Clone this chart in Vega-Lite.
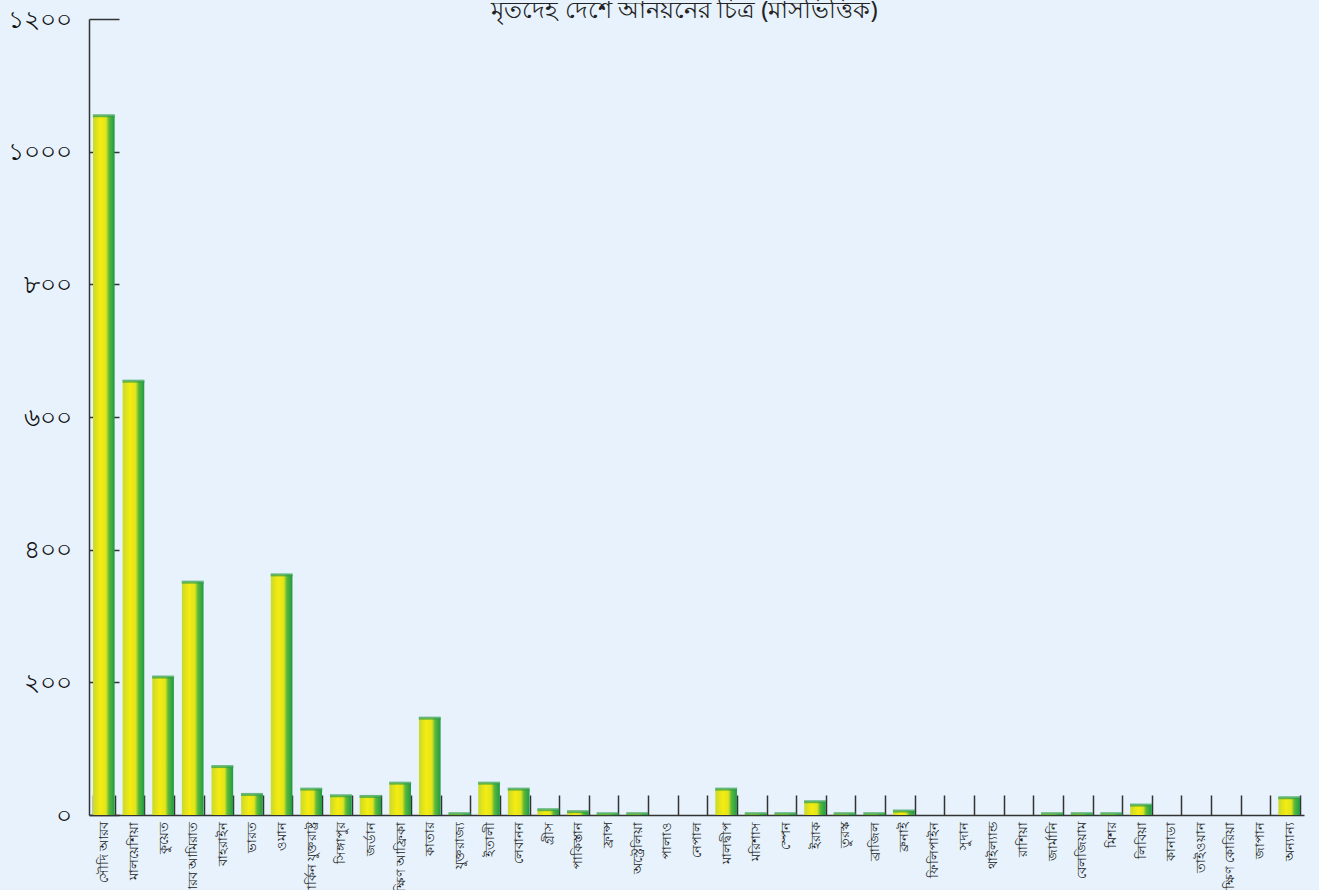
{
  "$schema": "https://vega.github.io/schema/vega-lite/v6.json",
  "width": 1215,
  "height": 796,
  "autosize": {"type": "none"},
  "padding": {"left": 89, "top": 19, "right": 15, "bottom": 75},
  "background": "#e7f2fc",
  "config": {
    "view": {"stroke": null},
    "font": "Noto Sans"
  },
  "title": {
    "text": "মৃতদেহ দেশে আনয়নের চিত্র (মাসভিত্তিক)",
    "fontSize": 24,
    "fontWeight": "normal",
    "color": "#222222",
    "anchor": "middle",
    "dx": -12,
    "offset": -16
  },
  "data": {
    "values": [
      {"country": "সৌদি আরব", "value": 1054},
      {"country": "মালয়েশিয়া", "value": 654},
      {"country": "কুয়েত", "value": 208},
      {"country": "সংযুক্ত আরব আমিরাত", "value": 351},
      {"country": "বাহরাইন", "value": 73},
      {"country": "ভারত", "value": 31},
      {"country": "ওমান", "value": 362},
      {"country": "মার্কিন যুক্তরাষ্ট্র", "value": 39},
      {"country": "সিঙ্গাপুর", "value": 29},
      {"country": "জর্ডান", "value": 28},
      {"country": "দক্ষিণ আফ্রিকা", "value": 48},
      {"country": "কাতার", "value": 146},
      {"country": "যুক্তরাজ্য", "value": 2},
      {"country": "ইতালী", "value": 48},
      {"country": "লেবানন", "value": 39},
      {"country": "গ্রীস", "value": 8},
      {"country": "পাকিস্তান", "value": 5},
      {"country": "ফ্রান্স", "value": 2},
      {"country": "অস্ট্রেলিয়া", "value": 2},
      {"country": "পালাও", "value": 0},
      {"country": "নেপাল", "value": 0},
      {"country": "মালদ্বীপ", "value": 39},
      {"country": "মরিশাস", "value": 2},
      {"country": "স্পেন", "value": 2},
      {"country": "ইরাক", "value": 20},
      {"country": "তুরস্ক", "value": 2},
      {"country": "ব্রাজিল", "value": 2},
      {"country": "ব্রুনাই", "value": 6},
      {"country": "ফিলিপাইন", "value": 0},
      {"country": "সুদান", "value": 0},
      {"country": "থাইল্যান্ড", "value": 0},
      {"country": "রাশিয়া", "value": 0},
      {"country": "জার্মানি", "value": 2},
      {"country": "বেলজিয়াম", "value": 2},
      {"country": "মিশর", "value": 2},
      {"country": "লিবিয়া", "value": 15},
      {"country": "কানাডা", "value": 0},
      {"country": "তাইওয়ান", "value": 0},
      {"country": "দক্ষিণ কোরিয়া", "value": 0},
      {"country": "জাপান", "value": 0},
      {"country": "অন্যান্য", "value": 26}
    ]
  },
  "encoding": {
    "x": {
      "field": "country",
      "type": "nominal",
      "sort": null,
      "scale": {"paddingInner": 0.27, "paddingOuter": 0.135},
      "axis": {
        "title": null,
        "labelAngle": -90,
        "labelFontSize": 13,
        "labelColor": "#222222",
        "labelPadding": 26,
        "tickBand": "extent",
        "tickSize": -20,
        "tickColor": "#333333",
        "tickWidth": 1.5,
        "domainColor": "#333333",
        "domainWidth": 1.5,
        "labelOverlap": false,
        "labelLimit": 200
      }
    },
    "y": {
      "field": "value",
      "type": "quantitative",
      "scale": {"domain": [0, 1200], "nice": false},
      "axis": {
        "title": null,
        "values": [0, 200, 400, 600, 800, 1000, 1200],
        "labelExpr": "datum.value == 0 ? '০' : datum.value == 200 ? '২০০' : datum.value == 400 ? '৪০০' : datum.value == 600 ? '৬০০' : datum.value == 800 ? '৮০০' : datum.value == 1000 ? '১০০০' : '১২০০'",
        "labelFontSize": 25,
        "labelColor": "#111111",
        "labelPadding": 48,
        "tickSize": -30,
        "tickColor": "#333333",
        "tickWidth": 1.5,
        "domainColor": "#333333",
        "domainWidth": 1.5,
        "grid": false
      }
    }
  },
  "layer": [
    {
      "mark": {
        "type": "bar",
        "color": {
          "gradient": "linear",
          "x1": 0, "x2": 1, "y1": 0, "y2": 0,
          "stops": [
            {"offset": 0, "color": "#c9d92c"},
            {"offset": 0.35, "color": "#f5ec10"},
            {"offset": 0.6, "color": "#e2e41c"},
            {"offset": 0.74, "color": "#5cb93a"},
            {"offset": 1, "color": "#1f9a44"}
          ]
        }
      }
    },
    {
      "transform": [{"filter": "datum.value > 0"}],
      "mark": {"type": "tick", "color": "#2e9e48", "thickness": 3, "size": 22}
    }
  ]
}
